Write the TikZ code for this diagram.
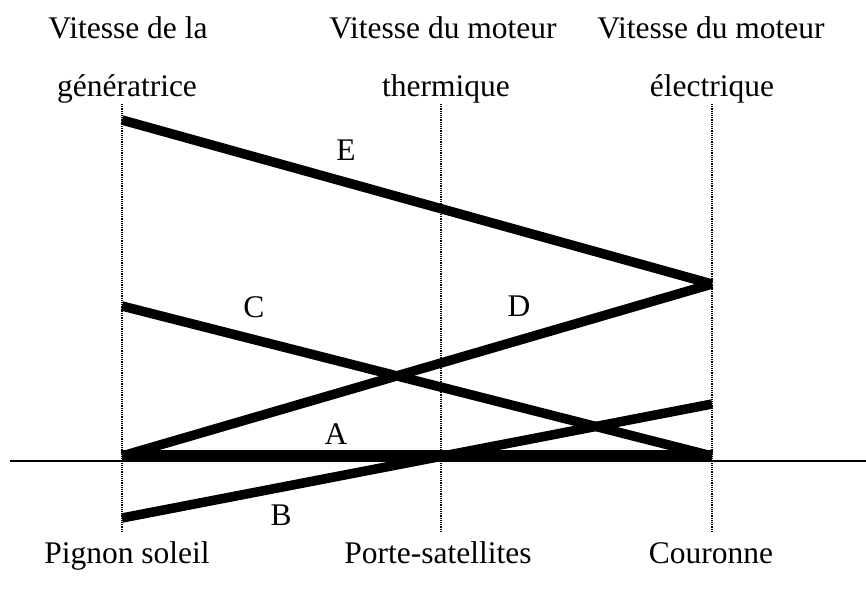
\documentclass[tikz,border=0pt]{standalone}
\usepackage{fontspec}
\setmainfont{Liberation Serif}
\tikzset{
  speed/.style={line width=9.5pt, line cap=butt},
  guide/.style={densely dotted, line width=1.2pt},
  lbl/.style={font=\fontsize{31.5}{31.5}\selectfont, inner sep=0pt, anchor=base},
  letter/.style={font=\fontsize{31.5}{31.5}\selectfont, inner sep=0pt}
}
\begin{document}
\begin{tikzpicture}[x=1pt, y=-1pt]
  % same size as the reference
  \useasboundingbox (0,0) rectangle (866,590);

  % axis and the three shafts
  \coordinate (axl) at (10,461);
  \coordinate (axr) at (866,461);
  \draw[line width=1.5pt] (axl) -- (axr);
  \foreach \x/\name in {122/sun, 441/carrier, 712/ring} {
    \coordinate (\name top) at (\x,104);
    \coordinate (\name bot) at (\x,532);
    \draw[guide] (\name top) -- (\name bot);
  }

  % speed ends
  \coordinate (e1) at (122,120);
  \coordinate (e2) at (712,284);
  \coordinate (c1) at (122,306);
  \coordinate (c2) at (712,456);
  \coordinate (a1) at (122,456);
  \coordinate (a2) at (712,456);
  \coordinate (b1) at (122,518);
  \coordinate (b2) at (712,404);

  \draw[speed] (e1) -- (e2);
  \draw[speed] (c1) -- (c2);
  \draw[speed] (a1) -- (e2);
  \draw[speed, line width=12.5pt] (a1) -- (a2);
  \draw[speed] (b1) -- (b2);

  \node[letter] (le) at (346,150) {E};
  \node[letter] (lc) at (254,307) {C};
  \node[letter] (ld) at (519,306) {D};
  \node[letter] (la) at (336,434) {A};
  \node[letter] (lb) at (281,515) {B};

  % shaft names
  \node[lbl] (g1) at (128,38) {Vitesse de la};
  \node[lbl] (g2) at (127,96) {génératrice};
  \node[lbl] (t1) at (443,38) {Vitesse du moteur};
  \node[lbl] (t2) at (446,96) {thermique};
  \node[lbl] (m1) at (711,38) {Vitesse du moteur};
  \node[lbl] (m2) at (712,96) {électrique};
  \node[lbl] (ps) at (127,563) {Pignon soleil};
  \node[lbl] (pc) at (438,563) {Porte-satellites};
  \node[lbl] (pr) at (711,563) {Couronne};
\end{tikzpicture}
\end{document}
